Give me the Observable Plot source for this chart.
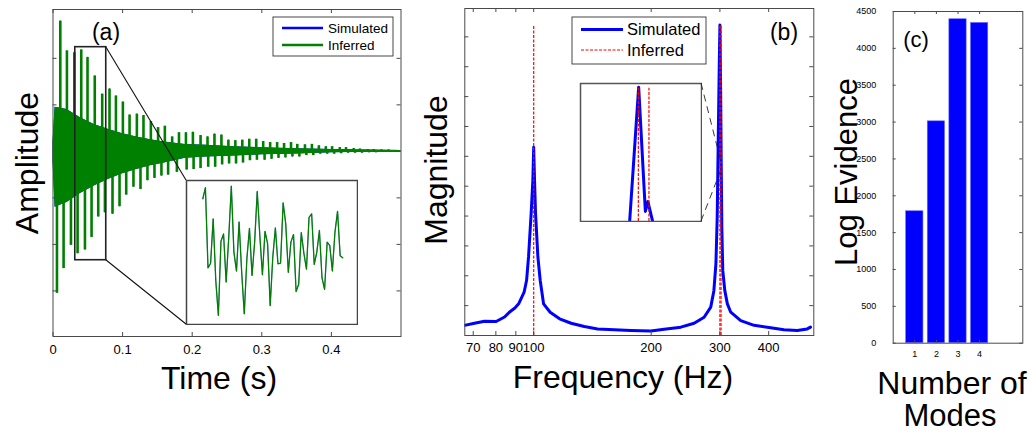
<!DOCTYPE html>
<html><head><meta charset="utf-8">
<script src="https://cdn.jsdelivr.net/npm/d3@7"></script>
<script src="https://cdn.jsdelivr.net/npm/@observablehq/plot@0.6"></script>
<style>
html,body{margin:0;padding:0;background:#fff;}
#wrap{position:relative;width:1032px;height:433px;overflow:hidden;background:#fff;font-family:"Liberation Sans",Arial,Helvetica,sans-serif;}
#wrap svg{position:absolute;}
</style></head><body><div id="wrap"></div>
<script>
// ---------- Panel (a): time-domain signal ----------
const upTime = [0.0105,0.020,0.0306,0.0406,0.0496,0.060,0.0707,0.0812,0.0904,0.1004,0.110,0.1205,0.130,0.1406,0.151,0.1607,0.1712,0.181,0.191,0.201,0.212,0.222,0.232,0.242,0.252,0.262,0.272,0.282,0.292,0.302,0.312,0.322,0.332,0.342,0.351,0.362,0.372,0.382,0.392,0.401,0.412,0.421,0.432,0.441,0.452,0.461,0.472,0.482,0.492];
const upAmp = [2.80,2.16,2.12,2.18,2.02,1.62,1.23,1.34,1.19,1.06,0.78,0.80,0.77,0.64,0.51,0.54,0.31,0.40,0.40,0.41,0.34,0.31,0.37,0.35,0.24,0.23,0.24,0.26,0.26,0.21,0.19,0.19,0.17,0.19,0.15,0.14,0.15,0.12,0.10,0.10,0.08,0.08,0.06,0.05,0.04,0.04,0.03,0.03,0.02];
const downTime = [0.0057,0.0152,0.0258,0.0353,0.0459,0.0554,0.065,0.0746,0.0855,0.0956,0.1052,0.1156,0.1257,0.1357,0.1458,0.1558,0.1654,0.178,0.192,0.202,0.212,0.223,0.233,0.243,0.253,0.263,0.273,0.283,0.293,0.304,0.314,0.324,0.334,0.344,0.354,0.364,0.374,0.384,0.394,0.404,0.414,0.424,0.434,0.444,0.454,0.464,0.474,0.484,0.494];
const downAmp = [-3.05,-2.52,-2.02,-2.20,-2.12,-1.85,-1.41,-1.32,-1.35,-1.19,-0.94,-0.77,-0.82,-0.63,-0.58,-0.53,-0.51,-0.45,-0.40,-0.39,-0.37,-0.34,-0.34,-0.29,-0.27,-0.27,-0.25,-0.20,-0.19,-0.19,-0.17,-0.15,-0.14,-0.12,-0.12,-0.09,-0.09,-0.06,-0.06,-0.06,-0.05,-0.04,-0.04,-0.04,-0.03,-0.03,-0.02,-0.02,-0.02];
const bodyTime = [0,0.003,0.02,0.04,0.06,0.08,0.10,0.12,0.14,0.16,0.19,0.22,0.26,0.30,0.35,0.40,0.45,0.50];
const bodyHigh = [0.2,0.95,0.9,0.72,0.57,0.47,0.38,0.31,0.25,0.2,0.15,0.13,0.10,0.08,0.055,0.04,0.03,0.02];
const bodyLow = [-0.2,-1.2,-1.1,-0.9,-0.74,-0.6,-0.48,-0.39,-0.31,-0.25,-0.15,-0.12,-0.10,-0.075,-0.055,-0.03,-0.02,-0.02];
const insetAmp = [1.66,2.01,-0.54,-0.39,1.02,-0.94,-2.05,0.31,0.54,-0.99,0.42,2.06,-0.04,-0.64,0.92,-0.68,-2.00,-0.25,0.72,-0.78,0.28,1.89,0.49,-0.76,0.62,0.23,-1.74,-0.20,0.73,-0.41,-0.39,1.53,0.86,-0.68,0.28,0.52,-1.29,-1.06,0.58,-0.07,-0.58,1.07,1.18,-0.43,-0.04,0.65,-0.86,-1.22,0.28,0.17,-0.64,0.60,1.26,-0.15,-0.22];
const zoomWindowTime = [0.032, 0.0765];
const zoomWindowAmp = [-2.34, 2.24];
const timeTicks = [0, 0.1, 0.2, 0.3, 0.4];
const ampTicks = [-3, -2, -1, 0, 1, 2];

// ---------- Panel (b): spectrum ----------
const specFreq = [66.5,70.5,74.8,80.1,84.2,86.6,89.5,91.5,94.5,95.9,97.0,98.5,99.5,100,100.5,101.1,102.5,103.9,106.0,110.2,116.5,124.7,134.8,145.8,160.9,177.5,199.7,215.9,238.2,257.6,273.3,284.2,289.5,293.0,295.3,297.0,298.8,300,301.4,302.3,303.4,305.1,308.7,313.5,319.8,339.2,366.9,404.8,437.8,473.4,502.1,512];
const specMag = [0.34,0.41,0.48,0.47,0.62,0.78,0.92,1.06,1.45,1.85,2.63,4.08,5.20,6.30,5.20,4.08,2.63,1.85,1.06,0.78,0.56,0.41,0.30,0.22,0.19,0.17,0.15,0.21,0.28,0.41,0.61,0.95,1.5,2.4,4.0,6.5,9.0,10.4,8.0,5.8,3.6,2.18,1.51,1.06,0.78,0.50,0.34,0.26,0.19,0.17,0.22,0.28];
const inferredFreq = [100, 300, 302];
const inferredMag = [10.35, 10.35, 10.35];
const insetFreq = [298.36, 300.06, 301.32, 301.8, 302.7];
const insetMag = [5.6, 10.39, 5.96, 6.31, 5.6];
const insetFreqDomain = [289.1, 311.9];
const insetMagDomain = [5.6, 10.52];
const zoomTargetFreq = [303.3, 301.6];
const zoomTargetMag = [5.76, 5.48];
const freqTicks = [70, 80, 90, 100, 200, 300, 400];
const magTicks = [1,2,3,4,5,6,7,8,9,10];

// ---------- Panel (c): log evidence ----------
const modes = [1, 2, 3, 4];
const logEvidence = [1790, 3010, 4395, 4345];
const evidenceTicks = [0,500,1000,1500,2000,2500,3000,3500,4000,4500];

// ---------- styling ----------
const FONT = "Liberation Sans, Arial, Helvetica, sans-serif";
const BLUE = "#0000ff", GREEN = "#008000", RED = "#ff0000", FRAME = "#4a4a4a";
const wrap = document.getElementById("wrap");
function place(svg, left, top) { svg.style.left = left + "px"; svg.style.top = top + "px"; wrap.appendChild(svg); return svg; }
function boxTicks(xt, yt, fw, fh, len) {
  return [
    Plot.tickX(xt, {x: d => d, insetTop: fh - len, stroke: FRAME}),
    Plot.tickX(xt, {x: d => d, insetBottom: fh - len, stroke: FRAME}),
    Plot.tickY(yt, {y: d => d, insetRight: fw - len, stroke: FRAME}),
    Plot.tickY(yt, {y: d => d, insetLeft: fw - len, stroke: FRAME})
  ];
}
function xLabels(ticks, fmt, pad, fs) {
  return Plot.text(ticks, {x: d => d, frameAnchor: "bottom", lineAnchor: "top", dy: pad, text: fmt, fontSize: fs, fill: "#000"});
}
function yLabels(ticks, fmt, pad, fs) {
  return Plot.text(ticks, {y: d => d, frameAnchor: "left", textAnchor: "end", dx: -pad, text: fmt, fontSize: fs, fill: "#000"});
}

// tables
const spikes = upTime.map((t, i) => ({t, a: upAmp[i]})).concat(downTime.map((t, i) => ({t, a: downAmp[i]})));
const body = bodyTime.map((t, i) => ({t, hi: bodyHigh[i], lo: bodyLow[i]}));
const zoomBox = [{t1: zoomWindowTime[0], t2: zoomWindowTime[1], a1: zoomWindowAmp[0], a2: zoomWindowAmp[1]}];
const insetSeries = insetAmp.map((a, i) => ({i, a}));
const spectrum = specFreq.map((f, i) => ({f, m: specMag[i]}));
const inferred = inferredFreq.map((f, i) => ({f, m: inferredMag[i]}));
const insetSpec = insetFreq.map((f, i) => ({f, m: insetMag[i]}));
const bars = modes.map((n, i) => ({n, v: logEvidence[i]}));

// ---------- Plot (a) ----------
const A = {left: 0, top: 0, w: 410, h: 360, ml: 52.5, mr: 9.5, mt: 9, mb: 24};
const plotA = Plot.plot({
  width: A.w, height: A.h, marginLeft: A.ml, marginRight: A.mr, marginTop: A.mt, marginBottom: A.mb,
  style: {fontFamily: FONT, fontSize: "13px", background: "none", color: "#000"},
  x: {domain: [0, 0.5], axis: null},
  y: {domain: [-3.98, 3.05], axis: null},
  marks: [
    Plot.areaY(body, {x: "t", y1: "lo", y2: "hi", fill: BLUE}),
    Plot.ruleX(spikes, {x: "t", y1: 0, y2: "a", stroke: BLUE, strokeWidth: 1}),
    Plot.areaY(body, {x: "t", y1: "lo", y2: "hi", fill: GREEN}),
    Plot.ruleX(spikes, {x: "t", y1: 0, y2: "a", stroke: GREEN, strokeWidth: 2.6}),
    Plot.rect(zoomBox, {x1: "t1", x2: "t2", y1: "a1", y2: "a2", fill: "none", stroke: "#222", strokeWidth: 1.6}),
    Plot.frame({stroke: FRAME}),
    ...boxTicks(timeTicks, ampTicks, A.w - A.ml - A.mr, A.h - A.mt - A.mb, 4),
    xLabels(timeTicks, d3.format("~g"), 8, 13)
  ]
});
place(plotA, A.left, A.top);

// inset (a)
const IA = {left: 185, top: 179, w: 173, h: 146};
const plotIA = Plot.plot({
  width: IA.w, height: IA.h, margin: 1,
  style: {fontFamily: FONT, background: "white"},
  x: {domain: [-6.3, 59.7], axis: null},
  y: {domain: [-2.34, 2.24], axis: null},
  marks: [
    Plot.line(insetSeries, {x: "i", y: "a", stroke: BLUE, strokeWidth: 0.5, clip: true}),
    Plot.line(insetSeries, {x: "i", y: "a", stroke: GREEN, strokeWidth: 1.3, clip: true}),
    Plot.frame({stroke: "#444", strokeWidth: 1.5})
  ]
});
place(plotIA, IA.left, IA.top);

// ---------- Plot (b) ----------
const B = {left: 420, top: 0, w: 400, h: 360, ml: 44.3, mr: 6.7, mt: 8, mb: 25};
const plotB = Plot.plot({
  width: B.w, height: B.h, marginLeft: B.ml, marginRight: B.mr, marginTop: B.mt, marginBottom: B.mb,
  style: {fontFamily: FONT, fontSize: "13px", background: "none", color: "#000"},
  x: {type: "log", domain: [66.6, 522], axis: null},
  y: {domain: [0, 10.95], axis: null},
  marks: [
    Plot.line(spectrum, {x: "f", y: "m", stroke: BLUE, strokeWidth: 3, clip: true}),
    Plot.ruleX(inferred, {x: "f", y1: 0, y2: "m", stroke: RED, strokeWidth: 1.2, strokeDasharray: "3,1.5"}),
    Plot.frame({stroke: FRAME}),
    ...boxTicks(freqTicks, magTicks, B.w - B.ml - B.mr, B.h - B.mt - B.mb, 4),
    xLabels(freqTicks, d => String(d), 7, 13)
  ]
});
place(plotB, B.left, B.top);

// inset (b)
const IB = {left: 579, top: 82, w: 123, h: 140};
const plotIB = Plot.plot({
  width: IB.w, height: IB.h, margin: 1,
  style: {fontFamily: FONT, background: "white"},
  x: {domain: insetFreqDomain, axis: null},
  y: {domain: insetMagDomain, axis: null},
  marks: [
    Plot.line(insetSpec, {x: "f", y: "m", stroke: BLUE, strokeWidth: 3, clip: true}),
    Plot.ruleX(inferred, {x: "f", y1: insetMagDomain[0], y2: "m", stroke: RED, strokeWidth: 1.2, strokeDasharray: "3,1.5", clip: true}),
    Plot.frame({stroke: "#555", strokeWidth: 1.5})
  ]
});
place(plotIB, IB.left, IB.top);

// ---------- Plot (c) ----------
const C = {left: 830, top: 0, w: 202, h: 360, ml: 62.7, mr: 9.7, mt: 11, mb: 17.3};
const plotC = Plot.plot({
  width: C.w, height: C.h, marginLeft: C.ml, marginRight: C.mr, marginTop: C.mt, marginBottom: C.mb,
  style: {fontFamily: FONT, fontSize: "9px", background: "none", color: "#000"},
  x: {domain: [0, 6], axis: null},
  y: {domain: [0, 4500], axis: null},
  marks: [
    Plot.rectY(bars, {x1: d => d.n - 0.4, x2: d => d.n + 0.4, y: "v", fill: BLUE, stroke: "#6a6aff", strokeWidth: 0.6}),
    Plot.frame({stroke: FRAME}),
    ...boxTicks(modes, evidenceTicks, C.w - C.ml - C.mr, C.h - C.mt - C.mb, 3),
    yLabels(evidenceTicks, d => String(d), 17, 9),
    xLabels(modes, d => String(d), 7, 9)
  ]
});
place(plotC, C.left, C.top);

// ---------- overlay: titles, legends, connectors ----------
const ov = d3.create("svg").attr("width", 1032).attr("height", 433)
  .style("left", "0px").style("top", "0px").style("pointer-events", "none")
  .style("font-family", FONT);

// connectors (a)
const xa = plotA.scale("x"), ya = plotA.scale("y");
const xia = plotIA.scale("x"), yia = plotIA.scale("y");
const iaLeft = IA.left + xia.apply(xia.domain[0]);
const iaTop = IA.top + yia.apply(yia.domain[1]);
const iaBottom = IA.top + yia.apply(yia.domain[0]);
[[zoomWindowAmp[1], iaTop], [zoomWindowAmp[0], iaBottom]].forEach(([a, yy]) => {
  ov.append("line").attr("x1", A.left + xa.apply(zoomWindowTime[1])).attr("y1", A.top + ya.apply(a))
    .attr("x2", iaLeft).attr("y2", yy).attr("stroke", "#111").attr("stroke-width", 1.1);
});

// connectors (b)
const xb = plotB.scale("x"), yb = plotB.scale("y");
const xib = plotIB.scale("x"), yib = plotIB.scale("y");
const ibRight = IB.left + xib.apply(xib.domain[1]);
const ibCorners = [IB.top + yib.apply(yib.domain[1]), IB.top + yib.apply(yib.domain[0])];
zoomTargetFreq.forEach((f, i) => {
  ov.append("line").attr("x1", ibRight).attr("y1", ibCorners[i])
    .attr("x2", B.left + xb.apply(f)).attr("y2", B.top + yb.apply(zoomTargetMag[i]))
    .attr("stroke", "#222").attr("stroke-width", 0.9).attr("stroke-dasharray", "7,5");
});

// legends
function legend(x, y, w, h, entries, fs, lx1, lx2, tx) {
  ov.append("rect").attr("x", x).attr("y", y).attr("width", w).attr("height", h)
    .attr("fill", "white").attr("stroke", "#333").attr("stroke-width", 0.9);
  entries.forEach(e => {
    ov.append("line").attr("x1", lx1).attr("x2", lx2).attr("y1", e.y).attr("y2", e.y)
      .attr("stroke", e.color).attr("stroke-width", e.width).attr("stroke-dasharray", e.dash || null);
    ov.append("text").attr("x", tx).attr("y", e.y).attr("dy", "0.35em").attr("font-size", fs).text(e.label);
  });
}
legend(273, 17, 120, 39, [
  {label: "Simulated", color: BLUE, width: 2.5, y: 28},
  {label: "Inferred", color: GREEN, width: 2.5, y: 45}
], 13.5, 282, 323, 328);
legend(572, 17, 134, 47, [
  {label: "Simulated", color: BLUE, width: 3, y: 29.5},
  {label: "Inferred", color: RED, width: 1.2, y: 50, dash: "3,1.5"}
], 16.5, 581, 623, 627);

// titles
function txt(x, y, s, fs, rot) {
  const t = ov.append("text").attr("font-size", fs).attr("text-anchor", "middle").text(s);
  if (rot) t.attr("transform", `translate(${x},${y}) rotate(-90)`); else t.attr("x", x).attr("y", y);
}
txt(38, 163, "Amplitude", 32, true);
txt(219, 389, "Time (s)", 32);
txt(447, 170, "Magnitude", 32, true);
txt(623, 388, "Frequency (Hz)", 32);
txt(857, 172, "Log Evidence", 31, true);
txt(952, 394, "Number of", 32);
txt(950, 426, "Modes", 31);
txt(106, 40, "(a)", 23);
txt(784, 40, "(b)", 23);
txt(916, 47, "(c)", 22);

wrap.appendChild(ov.node());
</script></body></html>
